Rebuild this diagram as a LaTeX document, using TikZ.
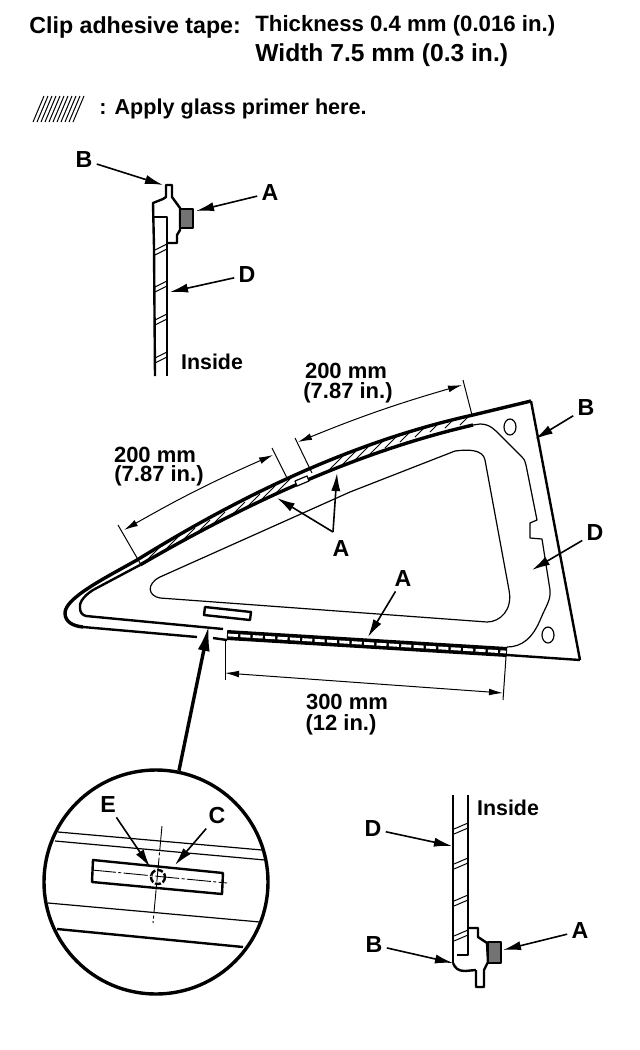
\documentclass[tikz,border=0pt]{standalone}
\usepackage{fontspec}
\setmainfont{Liberation Sans}
\usetikzlibrary{arrows.meta}
\tikzset{
  headtext/.style={anchor=west, inner sep=0pt, font=\fontsize{11.6pt}{13pt}\bfseries},
  partlabel/.style={inner sep=2pt, font=\fontsize{11.6pt}{13pt}\bfseries},
  dimtext/.style={inner sep=0pt, font=\fontsize{11pt}{11.5pt}\bfseries},
  leader/.style={line width=0.8pt, -{Latex[length=9pt,width=4.6pt]}},
  bigleader/.style={line width=1.7pt, -{Latex[length=13pt,width=6pt]}},
  dimline/.style={line width=0.5pt, {Latex[length=7pt,width=3.4pt]}-{Latex[length=7pt,width=3.4pt]}},
  tickline/.style={line width=0.5pt},
  thinline/.style={line width=0.6pt},
  glassline/.style={line width=1.2pt},
  heavyline/.style={line width=1.7pt},
  centerline/.style={line width=0.45pt, dash pattern=on 12pt off 1.2pt on 1.5pt off 1.2pt},
  tapebox/.style={draw=black, line width=1.1pt, fill=black!55},
  hatchline/.style={line width=0.5pt}
}
\begin{document}
\begin{tikzpicture}[x=0.5pt, y=-0.5pt, line join=round]
  \useasboundingbox (0,0) rectangle (640,1050);

  \node[headtext] (tapetitle) at (29,27) {Clip adhesive tape:};
  \node[headtext, font=\fontsize{11.1pt}{13pt}\bfseries] (tapethick) at (255,26) {Thickness 0.4 mm (0.016 in.)};
  \node[headtext, font=\fontsize{12.3pt}{13pt}\bfseries] (tapewidth) at (255,55) {Width 7.5 mm (0.3 in.)};
  \foreach \x in {33,37,...,73}
    \draw[hatchline] (\x,122) -- (\x+11,96);
  \node[headtext, font=\fontsize{10.8pt}{13pt}\bfseries] (primernote) at (99,109) {: Apply glass primer here.};

  \draw[glassline] (155,376) -- (154,247) -- (153,203) -- (163,199) -- (166,197) -- (166,185) -- (172,185)
    -- (172,197) -- (180,208) -- (180,230) -- (177,235) -- (177,243) -- (167,243);
  \draw[glassline] (153,217) -- (167,217) -- (167,376);
  \foreach \y in {250,287,320,358} {
    \draw[hatchline] (155,\y) -- (167,\y-6);
    \draw[hatchline] (155,\y+5) -- (167,\y-1);
  }
  \draw[tapebox] (180,209) rectangle (193,228);
  \node[partlabel] (labBtop) at (84,160) {B};
  \node[partlabel] (labAtop) at (270,193) {A};
  \node[partlabel] (labDtop) at (247,275) {D};
  \node[dimtext, font=\fontsize{10.7pt}{12pt}\bfseries] (insidetop) at (212,362) {Inside};
  \coordinate (tipBtop) at (163,185);
  \coordinate (tipAtop) at (196,211);
  \coordinate (tipDtop) at (170,292);
  \draw[leader] (labBtop) -- (tipBtop);
  \draw[leader] (labAtop) -- (tipAtop);
  \draw[leader] (labDtop) -- (tipDtop);

  \begin{scope}
    \clip (137,560) .. controls (250,490) and (360,440) .. (473,415) -- (473,425)
      .. controls (365,450) and (255,498) .. (140,565) -- cycle;
    \foreach \x/\y in {145/562,160/555,175/548,190/540,205/532,225/522,240/514,255/506,272/497,325/474,340/467,355/460,370/454,385/448,400/442,415/437,430/432,445/428,460/425}
      \draw[hatchline] (\x,\y) -- ++(20,-20);
  \end{scope}
  \draw[heavyline] (531,401) -- (473,415) .. controls (360,440) and (250,490) .. (137,560)
    .. controls (105,578) and (65,598) .. (65,613) .. controls (65,622) and (73,626) .. (83,627);
  \draw[glassline] (83,627) -- (197,637);
  \draw[glassline] (213,638) -- (227,640);
  \draw[glassline] (531,401) -- (580,660);
  \draw[glassline] (580,660) -- (507,655);
  \draw[heavyline] (140,565) .. controls (255,498) and (365,450) .. (473,425);
  \draw[glassline] (140,565) -- (93,590) .. controls (82,597) and (79,604) .. (80,608)
    .. controls (80,612) and (82,615) .. (86,616) -- (223,629);
  \draw[thinline] (473,425) -- (480,424) .. controls (490,424) and (495,430) .. (500,435) -- (522,457)
    .. controls (525,460) and (525,462) .. (526,465) -- (537,520) -- (530,523) -- (530,538) -- (542,539)
    -- (550,590) .. controls (551,600) and (546,606) .. (541,618) .. controls (533,638) and (522,647) .. (507,647);
  \draw[thinline] (160,577) -- (350,492) -- (455,451) .. controls (470,449) and (483,450) .. (485,460)
    -- (509,590) .. controls (513,610) and (500,622) .. (487,622) -- (160,598)
    .. controls (148,596) and (146,584) .. (160,577) -- cycle;
  \draw[glassline] (205,607) -- (251,612) -- (250,620) -- (204,615) -- cycle;
  \draw[thinline, fill=white] (295,481) -- (307,476) -- (309,481) -- (297,486) -- cycle;
  \draw[thinline] (510,427) ellipse [x radius=6, y radius=8];
  \draw[thinline] (548,635) ellipse [x radius=6, y radius=8];
  \draw[line width=5pt] (227,635) -- (507,652);
  \draw[line width=1.4pt, white, dash pattern=on 5pt off 1.2pt] (228,635) -- (506,652);

  \draw[tickline] (118,525) -- (140,563);
  \draw[tickline] (272,448) -- (288,480);
  \draw[tickline] (295,438) -- (312,473);
  \draw[tickline] (463,380) -- (472,415);
  \draw[tickline] (225,640) -- (225,680);
  \draw[tickline] (506,657) -- (503,700);
  \coordinate (dimleftA) at (124,530);
  \coordinate (dimleftB) at (273,455);
  \coordinate (dimtopA) at (298,442);
  \coordinate (dimtopB) at (462,385);
  \coordinate (dimlowA) at (225,673);
  \coordinate (dimlowB) at (503,693);
  \draw[dimline] (dimleftA) to[bend left=3] (dimleftB);
  \draw[dimline] (dimtopA) to[bend left=3] (dimtopB);
  \draw[dimline] (dimlowA) -- (dimlowB);
  \node[dimtext] (dimleftmm) at (155,455) {200 mm};
  \node[dimtext] (dimleftin) at (159,476) {(7.87 in.)};
  \node[dimtext] (dimtopmm) at (346,371) {200 mm};
  \node[dimtext] (dimtopin) at (348,393) {(7.87 in.)};
  \node[dimtext] (dimlowmm) at (347,702) {300 mm};
  \node[dimtext] (dimlowin) at (341,725) {(12 in.)};

  \node[partlabel] (labAtape) at (341,549) {A};
  \coordinate (forkA) at (333,532);
  \coordinate (tipAleft) at (277,498);
  \coordinate (tipAright) at (337,473);
  \draw[leader] (forkA) -- (tipAleft);
  \draw[leader] (forkA) -- (tipAright);
  \node[partlabel] (labAlow) at (403,579) {A};
  \node[partlabel] (labBmain) at (586,408) {B};
  \node[partlabel] (labDmain) at (595,533) {D};
  \coordinate (tipAlow) at (368,637);
  \coordinate (tipBmain) at (535,439);
  \coordinate (tipDmain) at (532,570);
  \draw[leader] (labAlow) -- (tipAlow);
  \draw[leader] (labBmain) -- (tipBmain);
  \draw[leader] (labDmain) -- (tipDmain);

  \begin{scope}
    \clip (156,882) circle [radius=112];
    \draw[thinline] (58,832) -- (262,850);
    \draw[thinline] (55,841) -- (265,860);
    \draw[thinline] (48,903) -- (260,922);
    \draw[glassline] (57,929) -- (243,947);
  \end{scope}
  \node[draw, circle, line width=1.7pt, minimum size=112pt, inner sep=0pt] (lens) at (156,882) {};
  \coordinate (tipLens) at (209,625);
  \draw[bigleader] (lens) -- (tipLens);
  \draw[glassline] (93,860) -- (223,873) -- (222,894) -- (92,882) -- cycle;
  \draw[centerline] (92,870) -- (227,883);
  \draw[centerline] (162,826) -- (153,923);
  \draw[line width=1.2pt, dash pattern=on 3pt off 1pt] (158,877) circle [radius=7];
  \node[partlabel] (labE) at (108,805) {E};
  \node[partlabel] (labC) at (217,816) {C};
  \coordinate (tipE) at (150,867);
  \coordinate (tipC) at (175,865);
  \draw[leader] (labE) -- (tipE);
  \draw[leader] (labC) -- (tipC);

  \draw[glassline] (453,795) -- (453,963);
  \draw[glassline] (468,795) -- (468,955) -- (457,955);
  \draw[glassline] (468,928) -- (478,928) -- (478,937) -- (487,943) -- (488,962);
  \draw[glassline] (453,963) .. controls (455,968) and (458,971) .. (465,971) -- (476,970);
  \draw[glassline] (476,970) -- (476,987) -- (484,987) -- (484,970) -- (488,962);
  \foreach \y in {829,864,901,936} {
    \draw[hatchline] (454,\y) -- (468,\y-6);
    \draw[hatchline] (454,\y+5) -- (468,\y-1);
  }
  \draw[tapebox] (488,942) rectangle (501,963);
  \node[dimtext, font=\fontsize{10.7pt}{12pt}\bfseries] (insidelow) at (508,808) {Inside};
  \node[partlabel] (labDlow) at (373,829) {D};
  \node[partlabel] (labAbot) at (580,931) {A};
  \node[partlabel] (labBlow) at (374,945) {B};
  \coordinate (tipDlow) at (452,846);
  \coordinate (tipAbot) at (503,950);
  \coordinate (tipBlow) at (453,963);
  \draw[leader] (labDlow) -- (tipDlow);
  \draw[leader] (labAbot) -- (tipAbot);
  \draw[leader] (labBlow) -- (tipBlow);
\end{tikzpicture}
\end{document}
